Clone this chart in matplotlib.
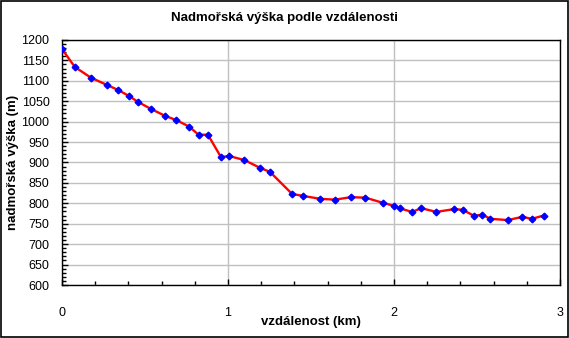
import matplotlib
matplotlib.use("Agg")
import matplotlib.pyplot as plt
from matplotlib.patches import Rectangle
from matplotlib.ticker import MultipleLocator

# profile data
vzdalenost = [0.0, 0.077, 0.173, 0.270, 0.336, 0.403, 0.459, 0.537, 0.622, 0.688,
              0.765, 0.823, 0.879, 0.958, 1.006, 1.098, 1.193, 1.253, 1.386, 1.454,
              1.557, 1.645, 1.738, 1.827, 1.935, 1.998, 2.034, 2.108, 2.165, 2.255,
              2.364, 2.414, 2.479, 2.533, 2.581, 2.686, 2.774, 2.830, 2.901]
vyska = [1178, 1134, 1108, 1090, 1078, 1063, 1048, 1031, 1014, 1004,
         988, 968, 968, 913, 916, 906, 887, 877, 823, 818,
         811, 809, 815, 814, 801, 794, 788, 779, 788, 779,
         786, 784, 770, 772, 762, 759, 767, 762, 770]

nadpis = "Nadmořská výška podle vzdálenosti"
popis_x = "vzdálenost (km)"
popis_y = "nadmořská výška (m)"

plt.rcParams['font.family'] = ['Liberation Sans', 'DejaVu Sans']

fig = plt.figure(figsize=(5.69, 3.38), dpi=100)
ax = fig.add_axes([62/569, 1 - 285/338, (560-62)/569, (285-40)/338])

ax.plot(vzdalenost, vyska, color="#ff0000", lw=1.7, zorder=3)
ax.plot(vzdalenost, vyska, ls="none", marker="D", ms=3.4, color="#0000ff", zorder=4)

ax.set_xlim(0, 3)
ax.set_ylim(600, 1200)
ax.xaxis.set_major_locator(MultipleLocator(1))
ax.xaxis.set_minor_locator(MultipleLocator(0.2))
ax.yaxis.set_major_locator(MultipleLocator(50))
ax.yaxis.set_minor_locator(MultipleLocator(10))
ax.grid(True, which="major", color="#c0c0c0", lw=1, zorder=0)
ax.set_axisbelow(True)

ax.tick_params(which="both", direction="in", top=False, right=False, color="black")
ax.tick_params(which="major", length=4, width=1, labelsize=9)
ax.tick_params(which="minor", length=3, width=1)
ax.tick_params(axis="x", which="major", pad=16)
ax.tick_params(axis="y", which="major", pad=9)
for s in ax.spines.values():
    s.set_color("black")
    s.set_linewidth(1)

ax.set_xlabel(popis_x, fontsize=9.5, fontweight="bold")
ax.set_ylabel(popis_y, fontsize=9.5, fontweight="bold")
ax.xaxis.set_label_coords(0.5, -0.128)
ax.yaxis.set_label_coords(-0.086, 0.5)
fig.text(0.5, 1 - 18/338, nadpis, ha="center", va="center", fontsize=9.5, fontweight="bold")

fig.patches.append(Rectangle((0.001, 0.002), 0.997, 0.995, transform=fig.transFigure,
                             fill=False, edgecolor="black", lw=1.2))

fig.savefig("out.png", dpi=100)
